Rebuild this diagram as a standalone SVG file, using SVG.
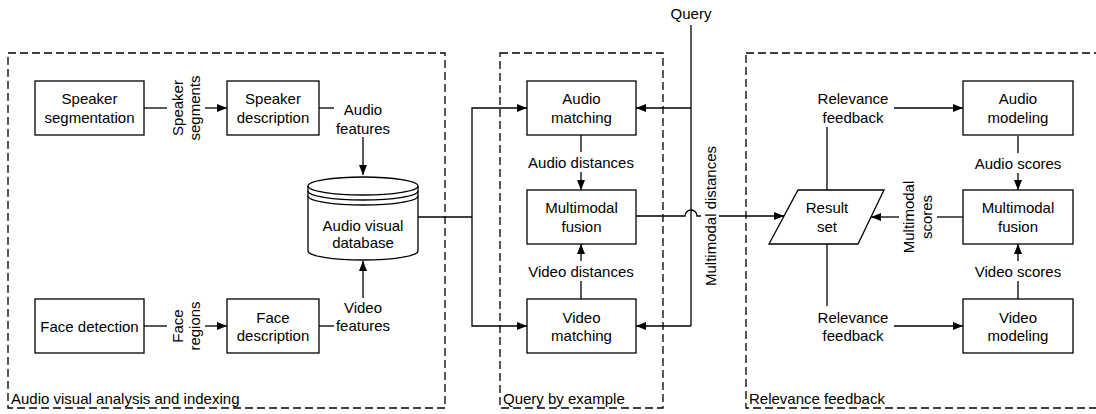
<svg xmlns="http://www.w3.org/2000/svg" width="1096" height="414" viewBox="0 0 1096 414">
<defs>
<marker id="arr" viewBox="0 0 10 10" refX="10" refY="5" markerWidth="10" markerHeight="10" markerUnits="userSpaceOnUse" orient="auto">
<path d="M0,1 L10,5 L0,9 Z" fill="#000"/>
</marker>
<style>
.box{fill:#fff;stroke:#000;stroke-width:1.3}
.grp{fill:none;stroke:#000;stroke-width:1.3;stroke-dasharray:8 4}
.ln{fill:none;stroke:#000;stroke-width:1.3}
.ar{fill:none;stroke:#000;stroke-width:1.3;marker-end:url(#arr)}
text{font-family:"Liberation Sans",Arial,sans-serif;font-size:15px;fill:#000;text-anchor:middle;dominant-baseline:central}
.lbl{text-anchor:start}
</style>
</defs>
<rect width="1096" height="414" fill="#fff"/>

<g id="group-analysis">
<rect class="grp" x="8" y="53" width="437" height="355"/>
<text class="lbl" x="11" y="398">Audio visual analysis and indexing</text>
</g>
<g id="group-query">
<rect class="grp" x="500" y="53" width="163" height="355"/>
<text class="lbl" x="503" y="398">Query by example</text>
</g>
<g id="group-relevance">
<rect class="grp" x="746" y="53" width="370" height="355"/>
<text class="lbl" x="749" y="398">Relevance feedback</text>
</g>

<g id="connectors">
<line class="ln" x1="144" y1="108" x2="167" y2="108"/>
<line class="ar" x1="205" y1="108" x2="227" y2="108"/>
<line class="ln" x1="319" y1="108" x2="334" y2="108"/>
<line class="ar" x1="363" y1="137" x2="363" y2="175"/>
<line class="ln" x1="144" y1="326" x2="167" y2="326"/>
<line class="ar" x1="205" y1="326" x2="227" y2="326"/>
<line class="ln" x1="319" y1="326" x2="334" y2="326"/>
<line class="ar" x1="363" y1="298" x2="363" y2="261"/>
<polyline class="ln" points="418,217 472,217"/>
<polyline class="ar" points="472,217 472,108 527,108"/>
<polyline class="ar" points="472,217 472,326 527,326"/>
<line class="ln" x1="691" y1="25" x2="691" y2="326"/>
<line class="ar" x1="691" y1="108" x2="636" y2="108"/>
<line class="ar" x1="691" y1="326" x2="636" y2="326"/>
<line class="ln" x1="581" y1="135" x2="581" y2="152"/>
<line class="ar" x1="581" y1="172" x2="581" y2="190"/>
<line class="ln" x1="581" y1="299" x2="581" y2="281"/>
<line class="ar" x1="581" y1="261" x2="581" y2="244"/>
<path class="ln" d="M636,216 L685,216 A6,6 0 0 1 697,216 L701,216"/>
<line class="ar" x1="719" y1="216" x2="784" y2="216"/>
<line class="ln" x1="1018" y1="136" x2="1018" y2="153"/>
<line class="ar" x1="1018" y1="173" x2="1018" y2="190"/>
<line class="ln" x1="1018" y1="299" x2="1018" y2="281"/>
<line class="ar" x1="1018" y1="261" x2="1018" y2="244"/>
<line class="ln" x1="963" y1="217" x2="937" y2="217"/>
<line class="ar" x1="899" y1="217" x2="871" y2="217"/>
<line class="ln" x1="827" y1="190" x2="827" y2="127"/>
<line class="ar" x1="894" y1="108" x2="963" y2="108"/>
<line class="ln" x1="827" y1="244" x2="827" y2="306"/>
<line class="ar" x1="894" y1="326" x2="963" y2="326"/>
</g>

<g id="label-speaker-segments" transform="translate(185,108) rotate(-90)"><text x="0" y="-8">Speaker</text><text x="0" y="9">segments</text></g>
<g id="label-audio-features"><text x="363" y="109">Audio</text><text x="363" y="128">features</text></g>
<g id="label-face-regions" transform="translate(185,326) rotate(-90)"><text x="0" y="-8">Face</text><text x="0" y="9">regions</text></g>
<g id="label-video-features"><text x="363" y="307">Video</text><text x="363" y="325">features</text></g>
<g id="label-query"><text x="691" y="13">Query</text></g>
<g id="label-audio-distances"><text x="581" y="162">Audio distances</text></g>
<g id="label-video-distances"><text x="581" y="271">Video distances</text></g>
<g id="label-multimodal-distances" transform="translate(710,216) rotate(-90)"><text x="0" y="0">Multimodal distances</text></g>
<g id="label-audio-scores"><text x="1018" y="163">Audio scores</text></g>
<g id="label-video-scores"><text x="1018" y="271">Video scores</text></g>
<g id="label-multimodal-scores" transform="translate(917,217) rotate(-90)"><text x="0" y="-9">Multimodal</text><text x="0" y="9">scores</text></g>
<g id="label-relevance-top"><text x="853" y="98">Relevance</text><text x="853" y="117">feedback</text></g>
<g id="label-relevance-bottom"><text x="853" y="317">Relevance</text><text x="853" y="335">feedback</text></g>

<g id="speaker-segmentation"><rect class="box" x="35" y="81" width="109" height="54"/><text x="89.5" y="98.5">Speaker</text><text x="89.5" y="117">segmentation</text></g>
<g id="speaker-description"><rect class="box" x="227" y="81" width="92" height="54"/><text x="273" y="98.5">Speaker</text><text x="273" y="117">description</text></g>
<g id="face-detection"><rect class="box" x="35" y="299" width="109" height="54"/><text x="89.5" y="326">Face detection</text></g>
<g id="face-description"><rect class="box" x="227" y="299" width="92" height="54"/><text x="273" y="317">Face</text><text x="273" y="335">description</text></g>

<g id="database">
<path class="box" d="M308,186 A55,9 0 0 1 418,186 L418,251 A55,9 0 0 1 308,251 Z"/>
<path class="ln" d="M308,186 A55,9 0 0 0 418,186"/>
<path class="ln" d="M308,191 A55,9 0 0 0 418,191"/>
<path class="ln" d="M308,196 A55,9 0 0 0 418,196"/>
<text x="363" y="225">Audio visual</text><text x="363" y="242">database</text>
</g>

<g id="audio-matching"><rect class="box" x="527" y="81" width="109" height="54"/><text x="581.5" y="98.5">Audio</text><text x="581.5" y="117">matching</text></g>
<g id="multimodal-fusion-q"><rect class="box" x="527" y="190" width="109" height="54"/><text x="581.5" y="207">Multimodal</text><text x="581.5" y="226">fusion</text></g>
<g id="video-matching"><rect class="box" x="527" y="299" width="109" height="54"/><text x="581.5" y="317">Video</text><text x="581.5" y="335">matching</text></g>

<g id="result-set"><polygon class="box" points="798,190 884,190 858,244 769,244"/><text x="827" y="207">Result</text><text x="827" y="226">set</text></g>

<g id="audio-modeling"><rect class="box" x="963" y="81" width="110" height="54"/><text x="1018" y="98.5">Audio</text><text x="1018" y="117">modeling</text></g>
<g id="multimodal-fusion-r"><rect class="box" x="963" y="190" width="110" height="54"/><text x="1018" y="207">Multimodal</text><text x="1018" y="226">fusion</text></g>
<g id="video-modeling"><rect class="box" x="963" y="299" width="110" height="54"/><text x="1018" y="317">Video</text><text x="1018" y="335">modeling</text></g>
</svg>
